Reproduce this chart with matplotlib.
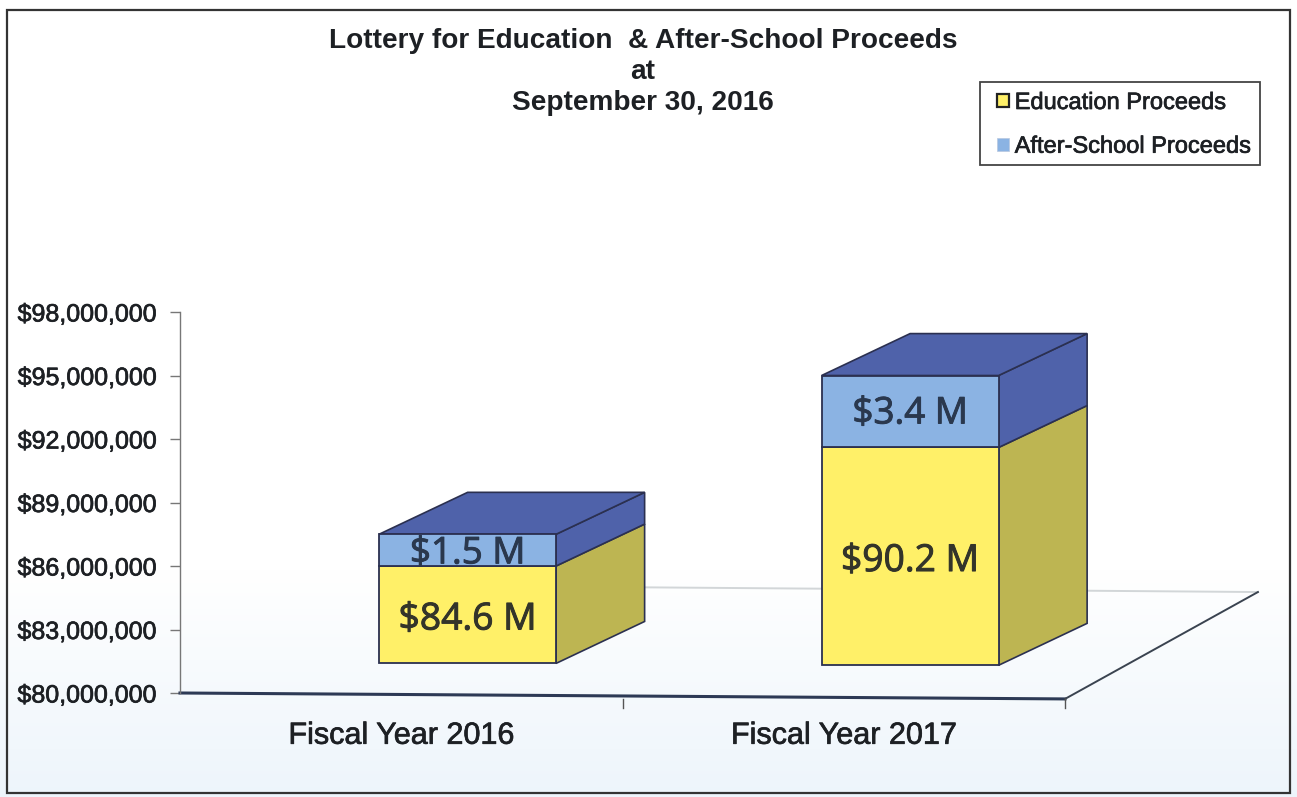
import numpy as np
import matplotlib
matplotlib.use("Agg")
import matplotlib.pyplot as plt
import matplotlib.patheffects as pe
from matplotlib.patches import Polygon, Patch, Rectangle
from matplotlib.ticker import FuncFormatter

categories = ["Fiscal Year 2016", "Fiscal Year 2017"]
education = [84.6, 90.2]
after_school = [1.5, 3.4]
edu_labels = ["$84.6 M", "$90.2 M"]
after_labels = ["$1.5 M", "$3.4 M"]
y_ticks = [80, 83, 86, 89, 92, 95, 98]
series_names = ["Education Proceeds", "After-School Proceeds"]
title = "Lottery for Education  & After-School Proceeds\nat\nSeptember 30, 2016"

W, H = 1297, 797
YEL, YEL_S = "#FFF068", "#BDB552"
BLU, BLU_S = "#8BB3E3", "#4F62AA"
EDGE = "#2B3050"
INK = "#1d2024"
SANS = "Liberation Sans"
heavy = [pe.withStroke(linewidth=0.5, foreground=INK)]

fig = plt.figure(figsize=(W / 100, H / 100), dpi=100, facecolor="white")

# page background: white fading to a pale blue, with the frame and legend box
bg = fig.add_axes([0, 0, 1, 1], zorder=0)
bg.set_xlim(0, W); bg.set_ylim(H, 0); bg.axis("off")
grad = np.ones((H, 1, 3))
t = np.clip((np.arange(H) - 570) / (H - 570), 0, 1)[:, None]
grad[:, :, 0] = 1 - 0.07 * t
grad[:, :, 1] = 1 - 0.04 * t
grad[:, :, 2] = 1 - 0.015 * t
bg.imshow(grad, extent=(0, W, H, 0), aspect="auto", interpolation="bilinear")
bg.add_patch(Rectangle((7, 10), 1283, 783, fill=False, ec="#333333", lw=1.6))
bg.add_patch(Rectangle((980, 82), 280, 83, fc="white", ec="#444444", lw=1.3))

# main axes: x in category slots, y in millions of dollars
L, R, T, B = 180, 1065, 312, 693
ax = fig.add_axes([L / W, 1 - B / H, (R - L) / W, (B - T) / H], zorder=1)
ax.patch.set_alpha(0)
ax.set_xlim(0, 2)
ax.set_ylim(80, 98)
for s in ("top", "right", "bottom"):
    ax.spines[s].set_visible(False)
ax.spines["left"].set_color("#777777")
ax.spines["left"].set_linewidth(1.0)
ax.set_yticks(y_ticks)
ax.yaxis.set_major_formatter(FuncFormatter(lambda v, _: f"${int(v)},000,000"))
ax.tick_params(axis="y", length=7, width=1, color="#777777", pad=9.5,
               labelsize=18, labelcolor=INK)
for lab in ax.get_yticklabels():
    lab.set_fontfamily(SANS)
    lab.set_path_effects(heavy)
ax.set_xticks([0.5, 1.5])
ax.set_xticklabels(categories, fontsize=22, family=SANS, color=INK, path_effects=heavy)
ax.tick_params(axis="x", length=0, pad=20)

# floor of the 3-D plot
fdx, fdy = 0.436, 5.05
ax.plot([0, 2], [80, 79.72], color="#2D3A55", lw=2.2, clip_on=False, zorder=2)
ax.plot([2, 2 + fdx], [79.72, 79.72 + fdy], color="#3A4350", lw=1.4, clip_on=False, zorder=2)
ax.plot([1, 2 + fdx], [85.0, 84.77], color="#D2D6D8", lw=1.4, clip_on=False, zorder=1)
for xt in (1, 2):
    ax.plot([xt, xt], [79.72, 79.3], color="#555555", lw=1, clip_on=False, zorder=2)

# 3-D stacked boxes
bar_w, dx, dy, lift, shift = 0.40, 0.2, 1.98, 1.4, 0.65
edu_frac = [0.44, 0.474]
after_nudge = [0.2, 0.14]
for i, (e, a) in enumerate(zip(education, after_school)):
    xc = i + shift
    x0, x1 = xc - bar_w / 2, xc + bar_w / 2
    base, mid, top = 80 + lift - 0.09 * i, e + lift, e + a + lift
    ax.bar(xc, mid - base, bar_w, bottom=base, color=YEL, ec=EDGE, lw=1.3, zorder=4)
    ax.bar(xc, top - mid, bar_w, bottom=mid, color=BLU, ec=EDGE, lw=1.3, zorder=4)
    for lo, hi, c in ((base, mid, YEL_S), (mid, top, BLU_S)):
        ax.add_patch(Polygon([(x1, lo), (x1 + dx, lo + dy), (x1 + dx, hi + dy), (x1, hi)],
                             closed=True, fc=c, ec=EDGE, lw=1.2, zorder=3, clip_on=False))
    ax.add_patch(Polygon([(x0, top), (x1, top), (x1 + dx, top + dy), (x0 + dx, top + dy)],
                         closed=True, fc=BLU_S, ec=EDGE, lw=1.2, zorder=3, clip_on=False))
    t1 = ax.text(xc, base + (mid - base) * edu_frac[i], edu_labels[i],
                 ha="center", va="center", family="Open Sans", fontsize=26.8, color="#33342A", zorder=5)
    t2 = ax.text(xc, (mid + top) / 2 - after_nudge[i], after_labels[i],
                 ha="center", va="center", family="Open Sans", fontsize=26.5, color="#2A384E", zorder=5)
    t1.set_path_effects([pe.withStroke(linewidth=0.7, foreground="#33342A")])
    t2.set_path_effects([pe.withStroke(linewidth=0.7, foreground="#2A384E")])

fig.text(643 / W, 1 - 72 / H, title, ha="center", va="center", family=SANS,
         fontweight="bold", fontsize=20.2, color=INK, linespacing=1.26)

handles = [Patch(fc=YEL, ec="#222222", lw=1.6), Patch(fc=BLU, ec="#B8C8E0", lw=0.5)]
leg = fig.legend(handles, series_names, loc="upper left",
                 bbox_to_anchor=(997 / W, 1 - 92 / H),
                 prop={"family": SANS, "size": 17}, frameon=False,
                 handlelength=0.5, handleheight=0.5, handletextpad=0.25,
                 labelspacing=0.92, borderpad=0, borderaxespad=0, labelcolor=INK)
leg.set_zorder(3)
for txt in leg.get_texts():
    txt.set_path_effects(heavy)

fig.savefig("out.png", dpi=100)
